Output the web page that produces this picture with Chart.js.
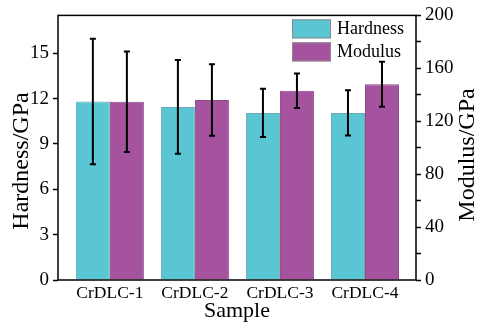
<!DOCTYPE html>
<html>
<head>
<meta charset="utf-8">
<script src="https://cdn.jsdelivr.net/npm/chart.js@4.4.0/dist/chart.umd.min.js"></script>
<style>
	html, body { margin: 0; padding: 0; background: #fff; }
	#wrap { width: 477px; height: 335px; }
</style>
</head>
<body>
<div id="wrap"><canvas id="chart" width="477" height="335"></canvas></div>
<script>
// data
const samples = ['CrDLC-1', 'CrDLC-2', 'CrDLC-3', 'CrDLC-4'];
const hardness = [11.8, 11.45, 11.05, 11.05];
const hardnessErr = [4.15, 3.1, 1.6, 1.5];
const modulus = [134.7, 136, 143, 148];
const modulusErr = [38, 27, 13, 17];

const hardnessTicks = [0, 1.5, 3, 4.5, 6, 7.5, 9, 10.5, 12, 13.5, 15, 16.5];
const hardnessLabels = [0, 3, 6, 9, 12, 15];
const modulusTicks = [0, 20, 40, 60, 80, 100, 120, 140, 160, 180, 200];
const modulusLabels = [0, 40, 80, 120, 160, 200];

const FONT = '"Liberation Serif", "Times New Roman", serif';
const errors = [hardnessErr, modulusErr];

const errorBars = {
	id: 'errorBars',
	afterDatasetsDraw(chart) {
		const ctx = chart.ctx;
		ctx.save();
		ctx.strokeStyle = '#000';
		ctx.lineWidth = 2;
		chart.data.datasets.forEach((ds, i) => {
			const meta = chart.getDatasetMeta(i);
			const scale = chart.scales[meta.yAxisID];
			meta.data.forEach((bar, j) => {
				const v = ds.data[j].y;
				const e = errors[i][j];
				const top = scale.getPixelForValue(v + e);
				const bot = scale.getPixelForValue(v - e);
				ctx.beginPath();
				ctx.moveTo(bar.x, top);
				ctx.lineTo(bar.x, bot);
				ctx.moveTo(bar.x - 3, top);
				ctx.lineTo(bar.x + 3, top);
				ctx.moveTo(bar.x - 3, bot);
				ctx.lineTo(bar.x + 3, bot);
				ctx.stroke();
			});
		});
		ctx.restore();
	}
};

// rotated y titles, both reading bottom to top
function yTitle(ctx, text, x, y) {
	ctx.save();
	ctx.font = '24px ' + FONT;
	ctx.fillStyle = '#000';
	ctx.textAlign = 'center';
	ctx.textBaseline = 'middle';
	ctx.translate(x, y);
	ctx.rotate(-Math.PI / 2);
	ctx.fillText(text, 0, 0);
	ctx.restore();
}

const frame = {
	id: 'frame',
	afterDraw(chart) {
		const { ctx, chartArea: a } = chart;
		ctx.save();
		ctx.strokeStyle = '#000';
		ctx.lineWidth = 1.5;
		ctx.strokeRect(a.left, a.top, a.right - a.left, a.bottom - a.top);

		// legend inside the plot, top right
		ctx.font = '18px ' + FONT;
		ctx.textBaseline = 'middle';
		chart.data.datasets.forEach((ds, i) => {
			const x = a.right - 124;
			const y = a.top + 4 + i * 23;
			ctx.fillStyle = ds.backgroundColor;
			ctx.fillRect(x, y, 39, 19);
			ctx.strokeStyle = '#8a8a8a';
			ctx.lineWidth = 1;
			ctx.strokeRect(x + 0.5, y + 0.5, 38, 18);
			ctx.fillStyle = '#000';
			ctx.fillText(ds.label, x + 45, y + 10);
		});
		ctx.restore();

		yTitle(ctx, chart.scales.y.options.title.text, 22, 161);
		yTitle(ctx, chart.scales.y1.options.title.text, 468, 155);
	}
};

new Chart(document.getElementById('chart').getContext('2d'), {
	type: 'bar',
	data: {
		datasets: [
			{
				label: 'Hardness',
				backgroundColor: '#5bc6d3',
				borderColor: '#6aa9b0',
				borderWidth: 1,
				yAxisID: 'y',
				data: hardness.map((v, i) => ({ x: i + 1, y: v })),
			},
			{
				label: 'Modulus',
				backgroundColor: '#a5539e',
				borderColor: '#8c4a88',
				borderWidth: 1,
				yAxisID: 'y1',
				data: modulus.map((v, i) => ({ x: i + 1, y: v })),
			},
		],
	},
	options: {
		responsive: false,
		animation: false,
		layout: { padding: { top: 15, left: 0, right: 0, bottom: 0 } },
		categoryPercentage: 0.8,
		barPercentage: 1.0,
		plugins: { legend: { display: false }, tooltip: { enabled: false } },
		scales: {
			x: {
				type: 'linear',
				min: 0.39,
				max: 4.6,
				offset: false,
				grid: { display: false, drawTicks: false, offset: false },
				border: { display: false },
				afterBuildTicks: (s) => { s.ticks = samples.map((c, i) => ({ value: i + 1 })); },
				afterFit: (s) => { s.height = 55; },
				ticks: {
					autoSkip: false,
					maxRotation: 0,
					padding: 3,
					color: '#000',
					font: { family: FONT, size: 17.5 },
					callback: (v) => samples[v - 1],
				},
				title: {
					display: true,
					text: 'Sample',
					color: '#000',
					font: { family: FONT, size: 22 },
					padding: { top: 0, bottom: 11 },
				},
			},
			y: {
				position: 'left',
				min: 0,
				max: 17.5,
				grid: { drawOnChartArea: false, drawTicks: true, tickLength: 5, tickColor: '#000', tickWidth: 1.5 },
				border: { display: false },
				afterBuildTicks: (s) => { s.ticks = hardnessTicks.map((v) => ({ value: v })); },
				afterFit: (s) => { s.width = 58; },
				ticks: {
					padding: 4,
					color: '#000',
					font: { family: FONT, size: 19 },
					callback: (v) => hardnessLabels.includes(v) ? String(v) : '',
				},
				title: { display: false, text: 'Hardness/GPa' },
			},
			y1: {
				position: 'right',
				min: 0,
				max: 200,
				grid: { drawOnChartArea: false, drawTicks: true, tickLength: 5, tickColor: '#000', tickWidth: 1.5 },
				border: { display: false },
				afterBuildTicks: (s) => { s.ticks = modulusTicks.map((v) => ({ value: v })); },
				afterFit: (s) => { s.width = 61; },
				ticks: {
					padding: 4,
					color: '#000',
					font: { family: FONT, size: 19 },
					callback: (v) => modulusLabels.includes(v) ? String(v) : '',
				},
				title: { display: false, text: 'Modulus/GPa' },
			},
		},
	},
	plugins: [errorBars, frame],
});
</script>
</body>
</html>
